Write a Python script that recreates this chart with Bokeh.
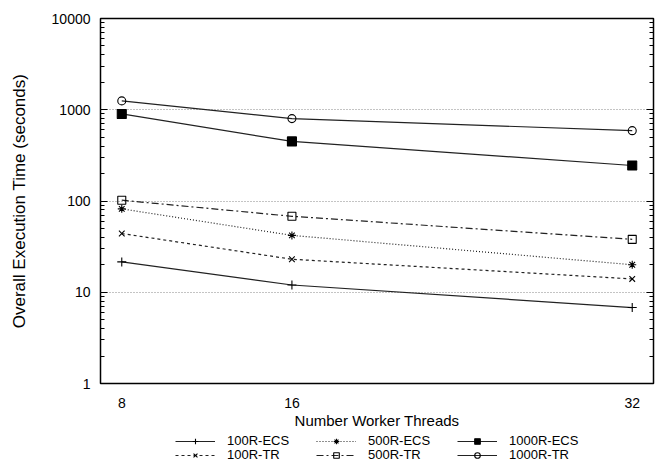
from bokeh.plotting import figure
from bokeh.models import (Range1d, FixedTicker, LogAxis, Legend, LegendItem)
from bokeh.layouts import column
from bokeh.embed import file_html
from bokeh.resources import INLINE

threads = [8, 16, 32]
ecs_100 = [21.5, 12.0, 6.8]
tr_100 = [44.0, 23.0, 14.0]
ecs_500 = [82.0, 42.0, 20.0]
tr_500 = [102.0, 68.0, 38.0]
ecs_1000 = [900.0, 450.0, 245.0]
tr_1000 = [1250.0, 800.0, 590.0]

x_ticks = [8, 16, 32]
y_ticks = [1, 10, 100, 1000, 10000]
y_tick_labels = ["1", "10", "100", "1000", "10000"]

FONT = "Liberation Sans"

p = figure(width=660, height=433, y_axis_type="log",
           x_range=Range1d(7, 33), y_range=Range1d(1, 10000),
           output_backend="svg", toolbar_location=None,
           min_border_left=100, min_border_right=7,
           min_border_top=18, min_border_bottom=50)

p.outline_line_color = "black"
p.outline_line_width = 1.5
p.background_fill_color = "white"
p.border_fill_color = "white"

minor = [m * 10 ** e for e in range(0, 4) for m in range(2, 10)]

# x axis
xa = p.xaxis[0]
xa.ticker = FixedTicker(ticks=x_ticks)
xa.axis_label = "Number Worker Threads"
xa.axis_label_text_font = FONT
xa.axis_label_text_font_size = "15px"
xa.axis_label_text_font_style = "normal"
xa.axis_label_text_color = "black"
xa.axis_label_standoff = 1
xa.major_label_text_font = FONT
xa.major_label_text_font_size = "14px"
xa.major_label_text_color = "black"
xa.major_label_standoff = 8
xa.major_tick_line_color = None
xa.minor_tick_line_color = None
xa.axis_line_color = None

# y axis
ya = p.yaxis[0]
ya.ticker = FixedTicker(ticks=y_ticks, minor_ticks=minor)
ya.major_label_overrides = {t: l for t, l in zip(y_ticks, y_tick_labels)}
ya.axis_label = "Overall Execution Time (seconds)"
ya.axis_label_text_font = FONT
ya.axis_label_text_font_size = "17px"
ya.axis_label_text_font_style = "normal"
ya.axis_label_text_color = "black"
ya.axis_label_standoff = 20
ya.major_label_text_font = FONT
ya.major_label_text_font_size = "14px"
ya.major_label_text_color = "black"
ya.major_label_standoff = 10
ya.major_tick_in = 7
ya.major_tick_out = 0
ya.minor_tick_in = 4
ya.minor_tick_out = 0
ya.major_tick_line_color = "black"
ya.minor_tick_line_color = "black"
ya.axis_line_color = None

ra = LogAxis(ticker=FixedTicker(ticks=y_ticks, minor_ticks=minor))
ra.major_label_overrides = {t: "" for t in y_ticks}
ra.major_label_text_font_size = "1px"
ra.major_label_standoff = 0
ra.major_tick_in = 7
ra.major_tick_out = 0
ra.minor_tick_in = 4
ra.minor_tick_out = 0
ra.axis_line_color = None
p.add_layout(ra, "right")

p.xgrid.grid_line_color = None
p.ygrid.grid_line_color = "#888888"
p.ygrid.grid_line_dash = "1 2"
p.ygrid.grid_line_width = 1
p.ygrid.ticker = FixedTicker(ticks=[10, 100, 1000])

series = [
    ("100R-ECS", ecs_100, "solid", "cross", "black", 9, "#222222"),
    ("100R-TR", tr_100, "3 3", "x", None, 8, "#222222"),
    ("500R-ECS", ecs_500, "1 2", "asterisk", None, 8, "#222222"),
    ("500R-TR", tr_500, "7 3 2 3", "square", None, 8, "#222222"),
    ("1000R-ECS", ecs_1000, "solid", "square", "black", 9, "#222222"),
    ("1000R-TR", tr_1000, "solid", "circle", None, 8, "#222222"),
]

# legend strip below the chart (its frame is aligned with the chart's frame)
leg = figure(width=660, height=30, x_range=Range1d(0, 1), y_range=Range1d(0, 1),
             output_backend="svg", toolbar_location=None,
             min_border_left=100, min_border_right=7,
             min_border_top=0, min_border_bottom=0)
leg.axis.visible = False
leg.grid.visible = False
leg.outline_line_color = None
leg.background_fill_color = "white"
leg.border_fill_color = "white"

items = {}
for name, vals, dash, marker, fill, size, col in series:
    p.line(threads, vals, line_color=col, line_width=1.2, line_dash=dash)
    p.scatter(threads, vals, marker=marker, size=size,
              line_color="black", line_width=1.1, fill_color=fill)
    # same data, outside the strip's visible ranges: only the legend glyph shows
    lr = leg.line(threads, vals, line_color=col, line_width=1.2, line_dash=dash)
    sr = leg.scatter(threads, vals, marker=marker, size=size,
                     line_color="black", line_width=1.1, fill_color=fill)
    items[name] = LegendItem(label=name, renderers=[lr, sr])

rows = [["100R-ECS", "500R-ECS", "1000R-ECS"],
        ["100R-TR", "500R-TR", "1000R-TR"]]
offsets = [15, 1]
for row, off in zip(rows, offsets):
    lg = Legend(items=[items[n] for n in row], orientation="horizontal",
                location=(75, off))
    lg.padding = 0
    lg.margin = 0
    lg.spacing = 5
    lg.glyph_width = 40
    lg.glyph_height = 14
    lg.label_height = 14
    lg.label_width = 84
    lg.label_standoff = 12
    lg.label_text_font = FONT
    lg.label_text_font_size = "13px"
    lg.label_text_color = "black"
    lg.border_line_color = None
    lg.background_fill_alpha = 0
    leg.add_layout(lg, "center")

layout = column(p, leg, spacing=0)
open("out.html", "w").write(file_html(layout, INLINE))
